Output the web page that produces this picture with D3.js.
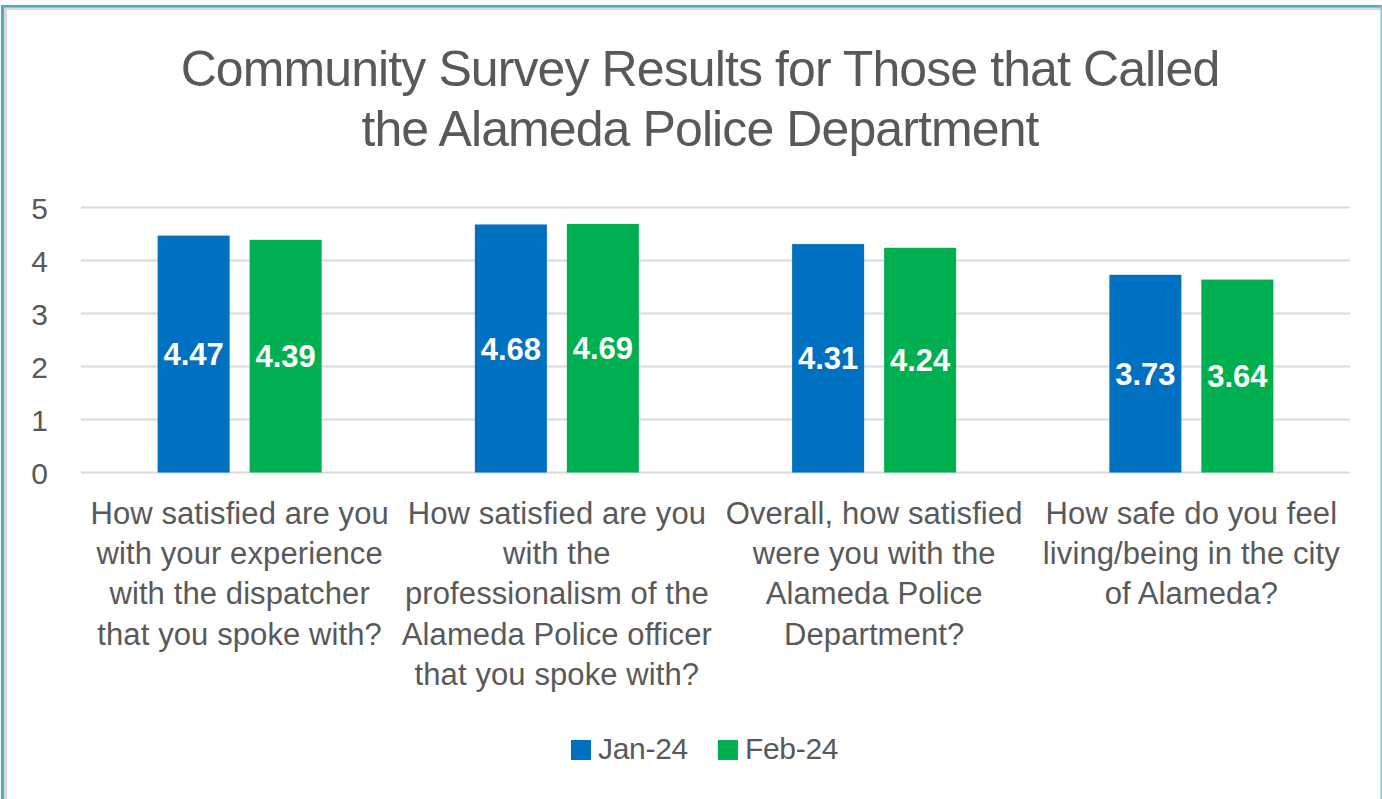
<!DOCTYPE html>
<html>
<head>
<meta charset="utf-8">
<script src="https://cdn.jsdelivr.net/npm/d3@7"></script>
<style>
  body { margin: 0; background: #fff; }
  svg { display: block; font-family: "Liberation Sans", Arial, sans-serif; }
</style>
</head>
<body>
<div id="chart"></div>
<script>
const titleLines = ['Community Survey Results for Those that Called', 'the Alameda Police Department'];

const categories = [
  ['How satisfied are you', 'with your experience', 'with the dispatcher', 'that you spoke with?'],
  ['How satisfied are you', 'with the', 'professionalism of the', 'Alameda Police officer', 'that you spoke with?'],
  ['Overall, how satisfied', 'were you with the', 'Alameda Police', 'Department?'],
  ['How safe do you feel', 'living/being in the city', 'of Alameda?']
];
const seriesNames = ['Jan-24', 'Feb-24'];
const jan24 = [4.47, 4.68, 4.31, 3.73];
const feb24 = [4.39, 4.69, 4.24, 3.64];
const yTicks = [0, 1, 2, 3, 4, 5];

const colors = ['#0070C0', '#00B050'];
const textColor = '#595959';
const width = 1382, height = 799;
const plotLeft = 81, plotRight = 1350, plotTop = 207.5, plotBottom = 472.5;

const svg = d3.select('#chart').append('svg')
  .attr('width', width)
  .attr('height', height);

// frame
svg.append('rect').attr('x', 0).attr('y', 0).attr('width', width).attr('height', height).attr('fill', '#fff');
svg.append('rect').attr('x', 4).attr('y', 7).attr('width', 3).attr('height', height).attr('fill', '#d9d9d9');
svg.append('rect').attr('x', 4).attr('y', 7).attr('width', width - 5).attr('height', 3).attr('fill', '#d9d9d9');
svg.append('rect').attr('x', 1).attr('y', 5).attr('width', 3).attr('height', height).attr('fill', '#4BACC6');
svg.append('rect').attr('x', 1).attr('y', 5).attr('width', width - 1).attr('height', 2.5).attr('fill', '#4BACC6');
svg.append('rect').attr('x', width - 1.5).attr('y', 5).attr('width', 1.5).attr('height', height).attr('fill', '#7fc6d4');

// title
svg.append('g').selectAll('text')
  .data(titleLines)
  .enter()
  .append('text')
  .attr('x', 700)
  .attr('y', (d, i) => 86 + i * 60)
  .attr('text-anchor', 'middle')
  .attr('fill', textColor)
  .style('font-size', '50px')
  .style('letter-spacing', '-0.9px')
  .text(d => d);

const x0 = d3.scaleBand()
  .domain(d3.range(categories.length))
  .range([plotLeft, plotRight])
  .paddingInner(0.483)
  .paddingOuter(0.2415);

const x1 = d3.scaleBand()
  .domain(d3.range(seriesNames.length))
  .range([0, x0.bandwidth()])
  .paddingInner(0.217);

const y = d3.scaleLinear()
  .domain([0, 5])
  .range([plotBottom, plotTop]);

// gridlines
svg.append('g')
  .selectAll('line')
  .data(yTicks)
  .enter()
  .append('line')
  .attr('x1', plotLeft)
  .attr('x2', plotRight)
  .attr('y1', d => y(d))
  .attr('y2', d => y(d))
  .attr('stroke', '#d9d9d9')
  .attr('stroke-width', 2);

// y axis labels
const yAxis = d3.axisLeft(y).tickValues(yTicks).tickSize(0).tickPadding(0).tickFormat(d3.format('d'));
const yg = svg.append('g')
  .attr('transform', `translate(48,0)`)
  .call(yAxis);
yg.select('.domain').remove();
yg.selectAll('text')
  .attr('fill', textColor)
  .style('font-size', '30px')
  .style('font-family', '"Liberation Sans", Arial, sans-serif')
  .attr('dy', '0.36em');

// bars
const rows = categories.map((c, i) => [jan24[i], feb24[i]]);
const groups = svg.append('g')
  .selectAll('g')
  .data(rows)
  .enter()
  .append('g')
  .attr('transform', (d, i) => `translate(${x0(i)},0)`);

groups.selectAll('rect')
  .data(d => d)
  .enter()
  .append('rect')
  .attr('x', (d, j) => x1(j))
  .attr('y', d => y(d))
  .attr('width', x1.bandwidth())
  .attr('height', d => y(0) - y(d))
  .attr('fill', (d, j) => colors[j]);

groups.selectAll('text')
  .data(d => d)
  .enter()
  .append('text')
  .attr('x', (d, j) => x1(j) + x1.bandwidth() / 2)
  .attr('y', d => (y(d) + y(0)) / 2)
  .attr('dy', '0.36em')
  .attr('text-anchor', 'middle')
  .attr('fill', '#fff')
  .style('font-size', '31px')
  .style('font-weight', 'bold')
  .text(d => d.toFixed(2));

// category labels
const cats = svg.append('g')
  .selectAll('text')
  .data(categories)
  .enter()
  .append('text')
  .attr('text-anchor', 'middle')
  .attr('fill', textColor)
  .style('font-size', '31px')
  .style('letter-spacing', '0.1px');

cats.selectAll('tspan')
  .data((d, i) => d.map(line => ({ line, i })))
  .enter()
  .append('tspan')
  .attr('x', d => x0(d.i) + x0.bandwidth() / 2)
  .attr('y', (d, k) => 524 + k * 40.2)
  .text(d => d.line);

// legend
const legend = svg.append('g');
const items = legend.selectAll('g')
  .data(seriesNames)
  .enter()
  .append('g');
items.append('rect')
  .attr('width', 20)
  .attr('height', 20)
  .attr('y', 740)
  .attr('fill', (d, i) => colors[i]);
items.append('text')
  .attr('x', 27)
  .attr('y', 759)
  .attr('fill', textColor)
  .style('font-size', '30px')
  .style('letter-spacing', '-0.3px')
  .text(d => d);

let lx = 571;
items.each(function() {
  d3.select(this).attr('transform', `translate(${lx},0)`);
  lx += 27 + d3.select(this).select('text').node().getComputedTextLength() + 30;
});
</script>
</body>
</html>
